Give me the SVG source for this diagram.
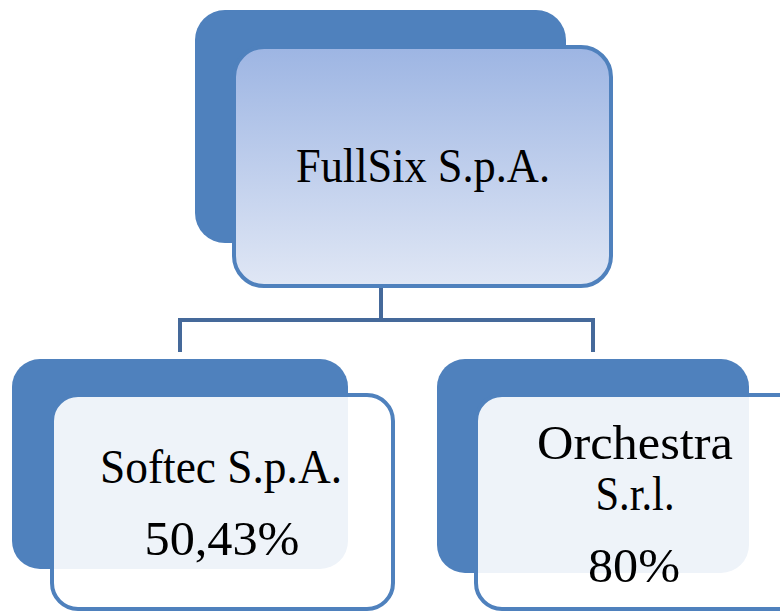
<svg xmlns="http://www.w3.org/2000/svg" width="780" height="611" viewBox="0 0 780 611">
  <defs>
    <linearGradient id="topGrad" x1="0" y1="0" x2="0" y2="1">
      <stop offset="0" stop-color="#9db5e3"/>
      <stop offset="1" stop-color="#e0e7f5"/>
    </linearGradient>
  </defs>
  <style>
    .back { fill: #4f81bd; }
    .front { stroke: #4f81bd; stroke-width: 4; }
    .childfront { fill: #ffffff; fill-opacity: 0.9; }
    .conn { fill: none; stroke: #45699a; stroke-width: 4; }
    text { font-family: "Liberation Serif", "Times New Roman", serif; font-size: 48px; fill: #000000; text-anchor: middle; }
  </style>
  <rect width="780" height="611" fill="#ffffff"/>
  <g id="connectors">
    <path class="conn" d="M381 288 V320 M180 352 V320 H593 V352"/>
  </g>
  <g id="node-fullsix">
    <rect class="back" x="195" y="10" width="371" height="233" rx="30"/>
    <rect class="front" x="234" y="47" width="377" height="239" rx="30" fill="url(#topGrad)"/>
    <text x="423" y="182" textLength="254" lengthAdjust="spacingAndGlyphs">FullSix S.p.A.</text>
  </g>
  <g id="node-softec">
    <rect class="back" x="12" y="359" width="336" height="210" rx="28"/>
    <rect class="front childfront" x="52" y="395" width="341" height="214" rx="26"/>
    <text x="221" y="483" textLength="242" lengthAdjust="spacingAndGlyphs">Softec S.p.A.</text>
    <text x="222" y="555" textLength="155" lengthAdjust="spacingAndGlyphs">50,43%</text>
  </g>
  <g id="node-orchestra">
    <rect class="back" x="437" y="359" width="312" height="214" rx="28"/>
    <rect class="front childfront" x="476" y="395" width="341" height="214" rx="26"/>
    <text x="635" y="459" textLength="196" lengthAdjust="spacingAndGlyphs">Orchestra</text>
    <text x="635" y="510" textLength="79" lengthAdjust="spacingAndGlyphs">S.r.l.</text>
    <text x="634" y="582" textLength="92" lengthAdjust="spacingAndGlyphs">80%</text>
  </g>
</svg>
